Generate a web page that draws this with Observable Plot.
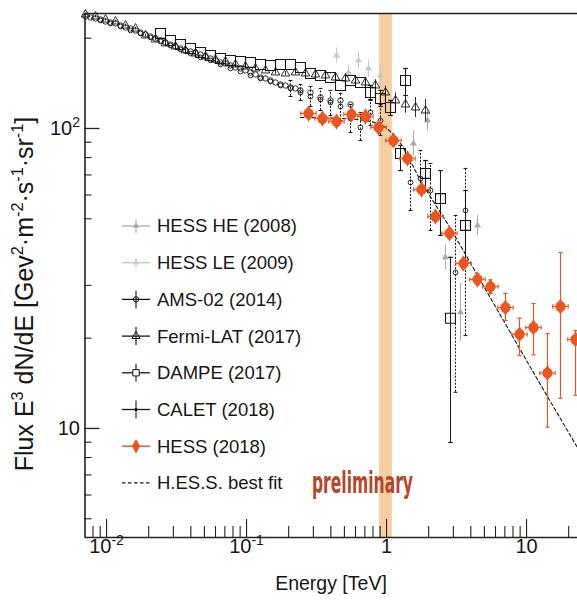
<!DOCTYPE html>
<html><head><meta charset="utf-8">
<script src="https://cdn.jsdelivr.net/npm/d3@7"></script>
<script src="https://cdn.jsdelivr.net/npm/@observablehq/plot@0.6"></script>
<style>
html,body{margin:0;padding:0;background:#fff;}
#chart{position:relative;width:577px;height:601px;overflow:hidden;}
</style></head><body><div id="chart"></div>
<script>
// ---------- data (E in TeV, flux E^3 dN/dE) ----------
const amsE = [0.00707,0.00768,0.00834,0.00905,0.00983,0.01067,0.01159,0.01258,0.01366,0.01483,0.0161,0.01748,0.01898,0.0206,0.02237,0.02429,0.02636,0.02862,0.03108,0.03374,0.03664,0.03978,0.04318,0.04688,0.0509,0.05526,0.06,0.06514,0.07072,0.07678,0.08337,0.09052,0.09827,0.1067,0.1158,0.1258,0.1365,0.1483,0.161,0.1748,0.1897,0.206,0.2237,0.2428,0.2862,0.3374,0.3977,0.4688,0.5526];
const amsF = [236.2,234.4,232.6,230.8,227.3,225.6,223.9,220.4,217.1,215.4,212.2,208.9,205.8,202.7,199.5,196.5,193.5,190.5,187.6,184.8,182,180.6,179.2,176.5,173.8,171.1,168.6,166,164.7,162.2,159.7,158.5,156.1,153.7,151.4,147.9,146.8,144.5,142.3,140.2,139.1,137,136,133.9,131.8,126.9,124,124,120.2];

const fermiE = [0.00707,0.00834,0.00983,0.01159,0.01366,0.0161,0.01898,0.02237,0.02636,0.03108,0.03664,0.04318,0.0509,0.06,0.07072,0.08337,0.09827,0.1158,0.1365,0.161,0.1897,0.2237,0.2636,0.3107,0.3663,0.4318,0.509,0.6,0.7072,0.8337,0.9827,1.158,1.366,1.61,1.897];
const fermiF = [239.9,236.2,230.8,227.3,220.4,215.4,204.2,198,192,187.6,182,177.8,173.8,169.8,167.3,163.4,160.9,158.5,156.1,153.7,152.5,153.7,152.5,151.4,150.2,147.9,146.8,144.5,142.3,139.1,131.8,124,120.2,117.5,114.8];
const fermiErr = [0.01,0.01,0.01,0.01,0.01,0.01,0.01,0.01,0.01,0.01,0.01,0.01,0.01,0.01,0.01,0.01,0.01,0.01,0.012,0.014,0.016,0.018,0.02,0.022,0.025,0.028,0.03,0.035,0.04,0.045,0.05,0.06,0.07,0.08,0.09];

const dampeE = [0.02429,0.02862,0.03374,0.03978,0.04688,0.05526,0.06514,0.07678,0.09052,0.1067,0.1258,0.1483,0.1748,0.206,0.2428,0.2862,0.3374,0.3977,0.4688,0.5526,0.6514,0.7678,0.9052,1.067,1.366,1.258,1.897,2.428,2.862,3.663];
const dampeF = [207.4,196.5,190.5,184.8,179.2,175.1,171.1,168.6,167.3,166,163.4,162.2,163.4,163.4,159.7,152.5,150.2,147.9,139.1,144.5,142.3,131.8,125.9,117.5,144.5,82.5,70.8,58.4,23.3,47.5];
const dampeLo = [null,null,null,null,null,null,null,null,null,null,null,null,null,null,null,null,null,null,null,null,null,124.9,118.4,110.5,128.8,72.4,62.1,44,8.98,36.3];
const dampeHi = [null,null,null,null,null,null,null,null,null,null,null,null,null,null,null,null,null,null,null,null,null,139.1,133.9,124,158.5,87.8,78.2,72.4,37.2,62.1];

const caletE = [0.00905,0.01067,0.01258,0.01483,0.01748,0.0206,0.02429,0.02862,0.03374,0.03978,0.04688,0.05526,0.06514,0.07678,0.09052,0.1067,0.1258,0.1483,0.1748,0.206,0.2428,0.2862,0.3374,0.3977,0.4688,0.5526,0.6514,0.7678,0.9052,1.483,1.748,2.06,3.107,3.663];
const caletF = [229.1,223.9,218.8,212.2,207.4,201.1,195,189,183.4,177.8,172.5,168.6,163.4,158.5,154.9,150.2,146.8,143.4,139.1,136,131.8,127.8,124.9,122.1,118.4,108,100.8,113.1,106.3,66.1,68.1,62.1,33.1,53.3];
const caletLo = [null,null,null,null,null,null,null,null,null,null,null,null,null,null,null,null,null,null,null,127.8,124,118.4,114.8,110.5,106.3,97,91.2,102.3,94.8,53.3,62.1,45.7,13.2,20.4];
const caletHi = [null,null,null,null,null,null,null,null,null,null,null,null,null,null,null,null,null,null,null,144.5,140.2,138,136,133.9,130.9,120.2,113.1,124,120.2,78.2,84.5,76.4,51.3,73.6];

const hessLeE = [0.4389,0.5347,0.6302,0.743,0.9052];
const hessLeF = [175.1,153.7,168.6,158.5,150.2];
const hessLeErr = [0.06,0.06,0.07,0.07,0.08];

const hessHeE = [1.557,1.961,2.636,3.374,4.463];
const hessHeF = [89.1,106.3,37.2,24.4,47.5];
const hessHeErr = [0.1,0.08,0.1,0.25,0.08];

const hessE  = [0.277,0.3486,0.4389,0.5618,0.7072,0.8759,1.121,1.411,1.777,2.237,2.816,3.545,4.463,5.526,7.07,8.905,11.21,14.11,17.48,22.37];
const hessF  = [112.2,108.0,105.5,111.4,109.6,100.8,91.2,79.4,62.6,50.9,44.7,35.5,31.4,29.7,25.3,20.6,21.7,15.3,25.5,19.8];
const hessLo = [108.9,104.8,102.4,108.1,106.4,97.9,88.5,77.1,60.8,49.4,43.1,34.2,30.1,28.2,22.9,17.5,17.6,10.1,12.6,12.9];
const hessHi = [115.6,111.2,108.7,114.7,112.9,103.8,93.9,81.8,64.5,52.4,46.4,36.9,32.8,31.3,28.2,23.3,26.1,20.7,38.6,21.2];
const hessXErrDecades = 0.055;

const fitE = [0.2428,0.4688,0.7678,0.9827,1.258,1.748,2.862,4.69,6.84,12.58,23.1];
const fitF = [108.8,108.0,105.5,100.8,89.1,67.1,46.4,31.1,22.9,14.0,8.64];

const bandE = [0.89, 1.10];

const xMajorTicks = [0.01, 0.1, 1, 10];
const xMinorTicks = [0.008,0.009,0.02,0.03,0.04,0.05,0.06,0.07,0.08,0.09,0.2,0.3,0.4,0.5,0.6,0.7,0.8,0.9,2,3,4,5,6,7,8,9,20];
const xTickLabels = ["10^-2","10^-1","1","10"];
const yMajorTicks = [10, 100];
const yMinorTicks = [5,6,7,8,9,20,30,50,60,70,80,90,200];
const yTickLabels = ["10","10^2"];

const legendLabels = ["HESS HE (2008)","HESS LE (2009)","AMS-02 (2014)","Fermi-LAT (2017)","DAMPE (2017)","CALET (2018)","HESS (2018)","H.ES.S. best fit"];
const annotation = [{E:0.673, F:6.6, label:"preliminary"}];

// ---------- build ----------
const xMin = 0.007015, xMax = 23.12, yMin = 4.33, yMax = 241.7;
const frameW = 577 - 84.5, frameH = 601 - 13 - 64;

const ams = amsE.map((E,i)=>({E, F:amsF[i]}));
const fermi = fermiE.map((E,i)=>({E, F:fermiF[i], lo:fermiF[i]/(1+fermiErr[i]), hi:fermiF[i]*(1+fermiErr[i])}));
const dampe = dampeE.map((E,i)=>({E, F:dampeF[i], lo:dampeLo[i], hi:dampeHi[i]}));
const calet = caletE.map((E,i)=>({E, F:caletF[i], lo:caletLo[i], hi:caletHi[i]}));
const hessLe = hessLeE.map((E,i)=>({E, F:hessLeF[i], lo:hessLeF[i]/(1+hessLeErr[i]), hi:hessLeF[i]*(1+hessLeErr[i])}));
const hessHe = hessHeE.map((E,i)=>({E, F:hessHeF[i], lo:hessHeF[i]/(1+hessHeErr[i]), hi:hessHeF[i]*(1+hessHeErr[i])}));
const hess = hessE.map((E,i)=>({E, F:hessF[i], lo:hessLo[i], hi:hessHi[i]}));
const fit = fitE.map((E,i)=>({E, F:fitF[i]}));
const dampeBars = dampe.filter(d=>d.lo!=null);
const caletBars = calet.filter(d=>d.lo!=null);
const hx = Math.pow(10, hessXErrDecades);

const capH = {draw(ctx, size){ const w = Math.sqrt(size)/2; ctx.moveTo(-w,0); ctx.lineTo(w,0); }};
const capV = {draw(ctx, size){ const w = Math.sqrt(size)/2; ctx.moveTo(0,-w); ctx.lineTo(0,w); }};

const black = "#161616", orange = "#e9561f", orangeBar = "#de5a2c", grayHe = "#a9a9a9", grayLe = "#c8c8c8";

const plot = Plot.plot({
  width: 577, height: 601,
  marginLeft: 84.5, marginRight: 0, marginTop: 13, marginBottom: 64,
  x: {type: "log", domain: [xMin, xMax], axis: null},
  y: {type: "log", domain: [yMin, yMax], axis: null},
  style: {background: "#fff", fontFamily: "'Liberation Sans', Arial, sans-serif", color: black, overflow: "visible"},
  marks: [
    Plot.rect([bandE], {x1: d=>d[0], x2: d=>d[1], y1: ()=>yMin, y2: ()=>yMax, fill: "#f4c691", fillOpacity: 0.85}),
    // frame
    Plot.ruleX([xMin], {stroke: "#222", strokeWidth: 1.6}),
    Plot.ruleY([yMin, yMax], {stroke: "#222", strokeWidth: 1.6}),
    // ticks (inward)
    Plot.ruleX(xMajorTicks, {stroke: "#222", strokeWidth: 1.1, insetTop: frameH - 18}),
    Plot.ruleX(xMinorTicks, {stroke: "#222", strokeWidth: 1.1, insetTop: frameH - 11}),
    Plot.ruleY(yMajorTicks, {stroke: "#222", strokeWidth: 1.3, insetRight: frameW - 15}),
    Plot.ruleY(yMinorTicks, {stroke: "#222", strokeWidth: 1.1, insetRight: frameW - 7}),
    // tick labels
    Plot.text(xMajorTicks, {x: d=>d, text: (d,i)=>xTickLabels[i], frameAnchor: "bottom", dy: 15, fontSize: 20, fill: black}),
    Plot.text(yMajorTicks, {y: d=>d, text: (d,i)=>yTickLabels[i], frameAnchor: "left", dx: -5, textAnchor: "end", fontSize: 20, fill: black}),
    // gray HESS 2008/2009
    Plot.ruleX(hessLe, {x: "E", y1: "lo", y2: "hi", stroke: grayLe, strokeWidth: 1}),
    Plot.dot(hessLe, {x: "E", y: "F", symbol: "triangle", r: 2.6, fill: grayLe}),
    Plot.ruleX(hessHe, {x: "E", y1: "lo", y2: "hi", stroke: grayHe, strokeWidth: 1}),
    Plot.dot(hessHe, {x: "E", y: "F", symbol: "triangle", r: 2.6, fill: grayHe}),
    // best fit
    Plot.line(fit, {x: "E", y: "F", stroke: black, strokeWidth: 1.1, strokeDasharray: "3.5,2.5", curve: "monotone-x"}),
    // AMS-02
    Plot.dot(ams, {x: "E", y: "F", r: 2.7, stroke: black, strokeWidth: 0.9, fill: "none"}),
    // Fermi
    Plot.ruleX(fermi, {x: "E", y1: "lo", y2: "hi", stroke: black, strokeWidth: 0.9}),
    Plot.dot(fermi, {x: "E", y: "F", symbol: "triangle", r: 3.2, stroke: black, strokeWidth: 0.9, fill: "none"}),
    // CALET
    Plot.ruleX(caletBars, {x: "E", y1: "lo", y2: "hi", stroke: black, strokeWidth: 1, strokeDasharray: "2,1.5"}),
    Plot.dot(caletBars, {x: "E", y: "lo", symbol: capH, r: 2.2, stroke: black, strokeWidth: 1}),
    Plot.dot(caletBars, {x: "E", y: "hi", symbol: capH, r: 2.2, stroke: black, strokeWidth: 1}),
    Plot.dot(calet, {x: "E", y: "F", r: 2.4, stroke: black, strokeWidth: 0.9, fill: "none"}),
    // DAMPE
    Plot.ruleX(dampeBars, {x: "E", y1: "lo", y2: "hi", stroke: black, strokeWidth: 1}),
    Plot.dot(dampeBars, {x: "E", y: "lo", symbol: capH, r: 2.6, stroke: black, strokeWidth: 1.2}),
    Plot.dot(dampeBars, {x: "E", y: "hi", symbol: capH, r: 2.6, stroke: black, strokeWidth: 1.2}),
    Plot.dot(dampe, {x: "E", y: "F", symbol: "square", r: 5.6, stroke: black, strokeWidth: 1.1, fill: "none"}),
    // HESS 2018
    Plot.ruleX(hess, {x: "E", y1: "lo", y2: "hi", stroke: orangeBar, strokeWidth: 1.2}),
    Plot.ruleY(hess, {y: "F", x1: d=>d.E/hx, x2: d=>d.E*hx, stroke: orangeBar, strokeWidth: 1.2}),
    Plot.dot(hess, {x: "E", y: "lo", symbol: capH, r: 2.4, stroke: orangeBar, strokeWidth: 1.2}),
    Plot.dot(hess, {x: "E", y: "hi", symbol: capH, r: 2.4, stroke: orangeBar, strokeWidth: 1.2}),
    Plot.dot(hess, {x: d=>d.E/hx, y: "F", symbol: capV, r: 2.4, stroke: orangeBar, strokeWidth: 1.2}),
    Plot.dot(hess, {x: d=>d.E*hx, y: "F", symbol: capV, r: 2.4, stroke: orangeBar, strokeWidth: 1.2}),
    Plot.dot(hess, {x: "E", y: "F", r: 5.2, fill: orange}),
    Plot.dot(hess, {x: "E", y: "F", symbol: "diamond", r: 5, fill: orange}),
    // annotation
    Plot.text(annotation, {x: "E", y: "F", text: "label", fontSize: 31, fontWeight: "bold", fill: "#b5462b",
      fontFamily: "'Liberation Sans Narrow', 'DejaVu Sans Condensed', 'Arial Narrow', sans-serif"})
  ]
});
document.getElementById("chart").appendChild(plot);

const svg = d3.select(plot);
// superscripts in tick labels, condensed annotation
svg.selectAll("text").each(function(){
  const s = this.textContent;
  if (s === "preliminary") {
    d3.select(this).attr("textLength", 101).attr("lengthAdjust", "spacingAndGlyphs");
    return;
  }
  if (!s.includes("^")) return;
  const [base, exp] = s.split("^");
  const t = d3.select(this); t.text("");
  t.append("tspan").text(base);
  t.append("tspan").attr("dy", -8).attr("font-size", 14).text(exp);
});

// rich text helper
function rich(sel, parts, base) {
  const shift = base * 0.42; let up = false;
  parts.forEach(([txt, sup]) => {
    const ts = sel.append("tspan").text(txt);
    if (sup) { ts.attr("font-size", base * 0.65); if (!up) { ts.attr("dy", -shift); up = true; } }
    else if (up) { ts.attr("dy", shift); up = false; }
  });
}

// axis titles
const yt = svg.append("text").attr("transform", "translate(33,294) rotate(-90)")
  .attr("text-anchor", "middle").attr("font-size", 25).attr("fill", black)
  .attr("font-family", "'Liberation Sans', Arial, sans-serif");
rich(yt, [["Flux E"],["3",1],[" dN/dE [Gev"],["2",1],["·m"],["-2",1],["·s"],["-1",1],["·sr"],["-1",1],["]"]], 25);
svg.append("text").attr("x", 331).attr("y", 590).attr("text-anchor", "middle").attr("font-size", 19.5)
  .attr("fill", black).attr("font-family", "'Liberation Sans', Arial, sans-serif").text("Energy [TeV]");

// legend
const lg = svg.append("g").attr("font-family", "'Liberation Sans', Arial, sans-serif").attr("text-anchor", "start");
const legendStyles = [
  {color: grayHe, sym: d3.symbolTriangle, fill: grayHe, bar: 7},
  {color: grayLe, sym: d3.symbolTriangle, fill: grayLe, bar: 5},
  {color: black, sym: d3.symbolCircle, fill: "none", bar: 9, size: 22},
  {color: black, sym: d3.symbolTriangle, fill: "none", bar: 9, size: 30},
  {color: black, sym: d3.symbolSquare, fill: "#fff", bar: 9, size: 40},
  {color: black, sym: d3.symbolCircle, fill: black, bar: 9, size: 8},
  {color: "#d8452a", sym: d3.symbolDiamond, fill: orange, bar: 0, size: 60},
  {dash: true}
];
legendLabels.forEach((label, i) => {
  const y = 226 + i * 36.7;
  const g = lg.append("g").attr("transform", `translate(0,${y})`);
  const st = legendStyles[i];
  if (st.dash) {
    g.append("line").attr("x1", 122).attr("x2", 150).attr("stroke", black).attr("stroke-width", 1.3).attr("stroke-dasharray", "3.5,2.5");
  } else {
    g.append("line").attr("x1", 122).attr("x2", 150).attr("stroke", st.color).attr("stroke-width", 1.3);
    if (st.bar) g.append("line").attr("x1", 136).attr("x2", 136).attr("y1", -st.bar).attr("y2", st.bar).attr("stroke", st.color).attr("stroke-width", 1.1);
    g.append("path").attr("transform", "translate(136,0)").attr("d", d3.symbol(st.sym, st.size || 18)())
      .attr("fill", st.fill).attr("stroke", st.fill === "none" || st.fill === "#fff" ? st.color : "none").attr("stroke-width", 1);
  }
  g.append("text").attr("x", 157).attr("dy", "0.35em").attr("font-size", 18.5).attr("fill", black).attr("text-anchor", "start").text(label);
});
</script>
</body></html>
